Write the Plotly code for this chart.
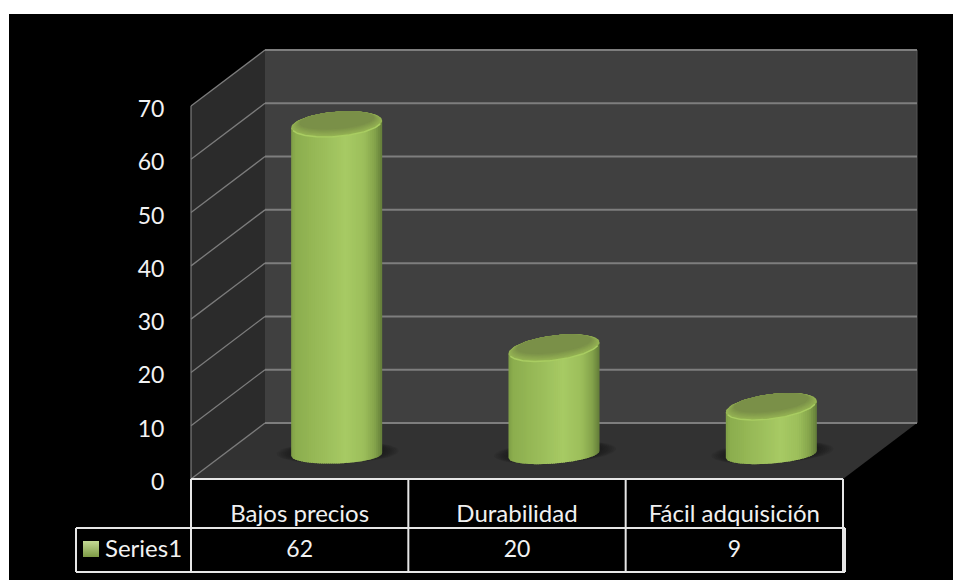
import numpy as np
import plotly.graph_objects as go

# Chart data
categories = ["Bajos precios", "Durabilidad", "Fácil adquisición"]
values = [62, 20, 9]
series_name = "Series1"
y_ticks = [0, 10, 20, 30, 40, 50, 60, 70]

# Scale of the axes, in pixels per axis unit
PX_X = 652 / 3
PX_Y = 373 / 70
W, H = 953, 580
LEFT, TOP = 9, 14
ORIGIN_PX = (191, 479)

# Depth of the 3D box, in axis units
DEPTH_X = 74 / PX_X
DEPTH_Y = 56 / PX_Y
Y_MAX = 70

# Cylinder proportions, in axis units
CYL_A = 45.5 / PX_X
TOP_B = 12.5 / PX_Y
BASE_B = 9 / PX_Y
BASE_LIFT = 24.5 / PX_Y
TOP_RISE = [7 / PX_Y, 11 / PX_Y, 11 / PX_Y]
BASE_RISE = [3 / PX_Y, 7 / PX_Y, 7 / PX_Y]

# Tick labels sit slightly below their gridline level
LABEL_DROP = 3 / PX_Y

BODY_STOPS = [
    (0.00, (126, 158, 70)), (0.05, (140, 174, 78)), (0.30, (152, 186, 88)),
    (0.60, (167, 202, 100)), (0.80, (156, 190, 91)), (0.92, (132, 163, 75)),
    (1.00, (98, 124, 56)),
]


def body_colour(t):
    stops = [s[0] for s in BODY_STOPS]
    rgb = [np.interp(t, stops, [s[1][c] for s in BODY_STOPS]) for c in range(3)]
    return "rgb(%d,%d,%d)" % tuple(int(round(c)) for c in rgb)


def mix(a, b, t):
    return "rgb(%d,%d,%d)" % tuple(int(round(a[c] + (b[c] - a[c]) * t)) for c in range(3))


fig = go.Figure()


def polygon(xs, ys, colour):
    fig.add_trace(go.Scatter(
        x=list(xs), y=list(ys), mode="lines", fill="toself", fillcolor=colour,
        line=dict(width=0), hoverinfo="skip", showlegend=False,
    ))


def polyline(xs, ys, colour, width):
    fig.add_trace(go.Scatter(
        x=list(xs), y=list(ys), mode="lines", line=dict(color=colour, width=width),
        hoverinfo="skip", showlegend=False,
    ))


def ellipse(cx, cy, a, b, rise, start=0.0, stop=2 * np.pi, n=72):
    t = np.linspace(start, stop, n)
    x = cx + a * np.cos(t)
    y = cy + b * np.sin(t) + rise / 2 * np.cos(t)
    return x, y


n_cat = len(categories)

# Box walls: side wall, back wall, floor
polygon([0, DEPTH_X, DEPTH_X, 0, 0],
        [0, DEPTH_Y, DEPTH_Y + Y_MAX, Y_MAX, 0], "#2b2b2b")
polygon([DEPTH_X, n_cat + DEPTH_X, n_cat + DEPTH_X, DEPTH_X, DEPTH_X],
        [DEPTH_Y, DEPTH_Y, DEPTH_Y + Y_MAX, DEPTH_Y + Y_MAX, DEPTH_Y], "#404040")
polygon([0, n_cat, n_cat + DEPTH_X, DEPTH_X, 0],
        [0, 0, DEPTH_Y, DEPTH_Y, 0], "#323232")

# Gridlines run along the side wall and across the back wall
polyline([0, 0], [0, Y_MAX], "#7c7c7c", 1.2)
polyline([n_cat + DEPTH_X, n_cat + DEPTH_X], [DEPTH_Y, DEPTH_Y + Y_MAX], "#555555", 1)
for tick in y_ticks:
    polyline([0, DEPTH_X], [tick, tick + DEPTH_Y], "#7c7c7c", 1.3)
    polyline([DEPTH_X, n_cat + DEPTH_X], [tick + DEPTH_Y, tick + DEPTH_Y], "#7e7e7e", 2)

# Cylinders
for i, value in enumerate(values):
    cx = i + 0.5 + DEPTH_X / 2
    base = BASE_LIFT
    top = BASE_LIFT + value

    # Soft contact shadow on the floor
    for grow in np.linspace(1.34, 1.02, 8):
        sx, sy = ellipse(cx + 0.005, base + 0.4, CYL_A * grow, BASE_B * (0.55 + 0.5 * grow),
                         BASE_RISE[i])
        polygon(sx, sy, "rgba(16,16,16,0.10)")

    # Side of the cylinder, shaded strip by strip
    edges = np.linspace(-1, 1, 47)
    for k in range(len(edges) - 1):
        u = np.linspace(edges[k], min(edges[k + 1] + 0.025, 1), 5)
        bottom = base - BASE_B * np.sqrt(1 - u ** 2) + BASE_RISE[i] / 2 * u
        upper = top + TOP_RISE[i] / 2 * u
        xs = cx + CYL_A * u
        polygon(np.r_[xs, xs[::-1], xs[0]], np.r_[bottom, upper[::-1], bottom[0]],
                body_colour((k + 0.5) / (len(edges) - 1)))

    # Top face: bevelled front edge easing into a darker centre set towards the back
    light, dark = (150, 180, 84), (122, 144, 72)
    for step, fade in enumerate(np.linspace(0, 1, 9)):
        ex, ey = ellipse(cx, top + fade * 0.30 * TOP_B, CYL_A * (1 - 0.18 * fade),
                         TOP_B * (1 - 0.30 * fade), TOP_RISE[i] * (1 - 0.18 * fade))
        polygon(ex, ey, mix(light, dark, fade))
    rx, ry = ellipse(cx, top, CYL_A * 0.99, TOP_B * 0.99, TOP_RISE[i], np.pi * 1.08, np.pi * 1.92)
    polyline(rx, ry, "#a9cd62", 1.4)

# Data table underneath the plot
row_top = (ORIGIN_PX[1] - 528) / PX_Y
row_bottom = (ORIGIN_PX[1] - 572) / PX_Y
table_left = (76 - ORIGIN_PX[0]) / PX_X
table_right = n_cat + 2 / PX_X
TABLE_LINE = "#e6e6e6"
polyline([0, n_cat], [0, 0], TABLE_LINE, 2)
polyline([table_left, table_right], [row_top, row_top], TABLE_LINE, 2)
polyline([table_left, table_right], [row_bottom, row_bottom], TABLE_LINE, 2)
polyline([table_left, table_left], [row_top, row_bottom], TABLE_LINE, 2)
polyline([table_right, table_right], [row_top, row_bottom], TABLE_LINE, 2)
for edge in range(n_cat + 1):
    polyline([edge, edge], [0, row_bottom], TABLE_LINE, 2)

row_mid = (ORIGIN_PX[1] - 549) / PX_Y
row_text = (ORIGIN_PX[1] - 551) / PX_Y
fig.add_trace(go.Scatter(
    x=[i + 0.5 for i in range(n_cat)], y=[row_text] * n_cat, mode="text",
    text=[str(v) for v in values], textposition="middle center",
    textfont=dict(family="Lato", size=23, color="#f2f2f2"),
    hoverinfo="skip", showlegend=False,
))

# Series key in the first table column
fig.add_trace(go.Scatter(
    x=[(91 - ORIGIN_PX[0]) / PX_X], y=[row_mid], mode="markers",
    marker=dict(symbol="square", size=16, color="#c4da94", line=dict(width=0),
                gradient=dict(type="vertical", color="#7d9a45")),
    hoverinfo="skip", showlegend=False,
))
fig.add_trace(go.Scatter(
    x=[(105 - ORIGIN_PX[0]) / PX_X], y=[row_text], mode="text",
    text=[series_name], textposition="middle right",
    textfont=dict(family="Lato", size=24, color="#f2f2f2"),
    hoverinfo="skip", showlegend=False,
))

# Invisible trace that keeps the labelled value axis on the page
fig.add_trace(go.Scatter(
    x=[0], y=[0], yaxis="y2", mode="markers", marker=dict(opacity=0),
    hoverinfo="skip", showlegend=False,
))

x_range = [(LEFT - ORIGIN_PX[0]) / PX_X, (W - ORIGIN_PX[0]) / PX_X]
y_range = [(ORIGIN_PX[1] - H) / PX_Y, (ORIGIN_PX[1] - TOP) / PX_Y]

fig.update_layout(
    width=W, height=H, showlegend=False, hovermode=False,
    margin=dict(l=LEFT, r=0, t=TOP, b=0, pad=0),
    paper_bgcolor="#ffffff", plot_bgcolor="#000000",
    xaxis=dict(
        range=x_range, showgrid=False, zeroline=False, showline=False,
        anchor="free", position=(H - ORIGIN_PX[1]) / (H - TOP),
        tickmode="array", tickvals=[i + 0.5 for i in range(n_cat)], ticktext=categories,
        ticks="outside", ticklen=13, tickcolor="rgba(0,0,0,0)",
        tickangle=0, tickfont=dict(family="Lato", size=24, color="#f0f0f0"),
    ),
    yaxis=dict(range=y_range, visible=False),
    yaxis2=dict(
        range=[y_range[0] + LABEL_DROP, y_range[1] + LABEL_DROP],
        overlaying="y", side="left",
        showgrid=False, zeroline=False, showline=False,
        anchor="free", position=(ORIGIN_PX[0] - LEFT) / (W - LEFT),
        tickmode="array", tickvals=y_ticks,
        ticks="outside", ticklen=22, tickcolor="rgba(0,0,0,0)",
        tickfont=dict(family="Lato", size=23, color="#f2f2f2"),
    ),
)

fig.write_html("out.html", config=dict(displayModeBar=False))
